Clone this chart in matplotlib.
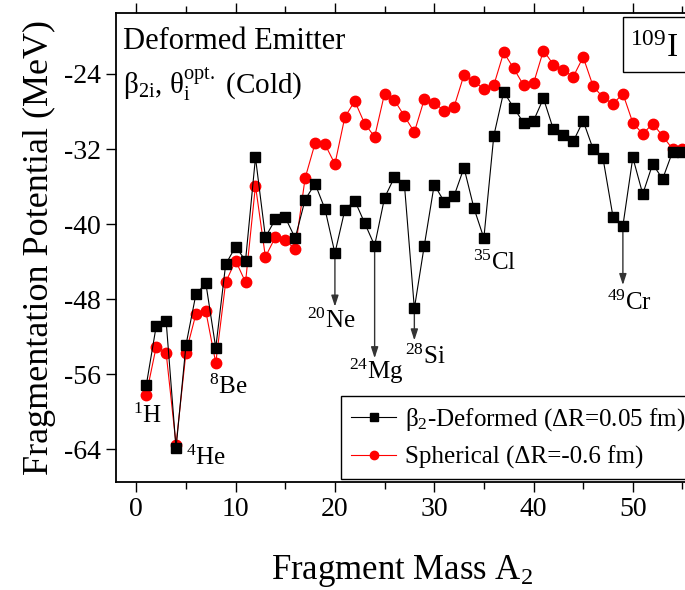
import matplotlib
matplotlib.use("Agg")
import matplotlib.pyplot as plt
from matplotlib.patches import Rectangle

plt.rcParams['font.family'] = ['Liberation Serif', 'DejaVu Serif']
plt.rcParams['mathtext.fontset'] = 'custom'
plt.rcParams['mathtext.rm'] = 'Liberation Serif'
plt.rcParams['mathtext.it'] = 'Liberation Serif:italic'
plt.rcParams['mathtext.bf'] = 'Liberation Serif:bold'
plt.rcParams['axes.unicode_minus'] = False

# Fragment mass numbers
mass = list(range(1, 56))

# beta2-deformed (dR = 0.05 fm)
deformed = [-57.2, -50.9, -50.3, -63.9, -52.9, -47.5, -46.3, -53.2, -44.3, -42.4,
            -43.9, -32.9, -41.4, -39.5, -39.3, -41.5, -37.4, -35.7, -38.4, -43.1,
            -38.5, -37.5, -39.9, -42.3, -37.2, -35.0, -35.8, -49.0, -42.3, -35.8,
            -37.6, -37.0, -34.0, -38.3, -41.5, -30.6, -25.9, -27.6, -29.2, -29.0,
            -26.6, -29.9, -30.5, -31.2, -29.0, -32.0, -33.0, -39.2, -40.2, -32.9,
            -36.8, -33.6, -35.2, -32.3, -32.3]

# spherical (dR = -0.6 fm)
spherical = [-58.2, -53.1, -53.7, -63.5, -53.7, -49.6, -49.3, -54.8, -46.2, -43.9,
             -46.2, -35.9, -43.5, -41.4, -41.7, -42.7, -35.1, -31.4, -31.5, -33.6,
             -28.6, -26.9, -29.3, -30.7, -26.1, -26.8, -28.5, -30.2, -26.7, -27.1,
             -27.9, -27.5, -24.1, -24.8, -25.6, -25.2, -21.7, -23.4, -25.2, -25.0,
             -21.5, -23.0, -23.6, -24.3, -22.2, -25.3, -26.5, -27.2, -26.1, -29.2,
             -30.4, -29.3, -30.6, -32.0, -32.0]

xticks = [0, 10, 20, 30, 40, 50]
yticks = [-64, -56, -48, -40, -32, -24]

# labelled fragments: (text, x, y)
labels = [(r'$^{1}$H', 1.1, -60.4), (r'$^{4}$He', 7.0, -64.9), (r'$^{8}$Be', 9.3, -57.4),
          (r'$^{20}$Ne', 19.6, -50.3), (r'$^{24}$Mg', 24.2, -55.7), (r'$^{28}$Si', 29.1, -54.2),
          (r'$^{35}$Cl', 36.1, -44.1), (r'$^{49}$Cr', 49.7, -48.4)]
# arrows: (mass, tip y)
arrows = [(20, -48.8), (24, -54.3), (28, -52.4), (49, -46.5)]

fig = plt.figure(figsize=(6.85, 5.9), dpi=100)
ax = fig.add_axes([0.170, 0.183, 0.835, 0.795])

ax.plot(mass, deformed, color='black', lw=0.8, marker='s', ms=6.5,
        mfc='black', mec='black', label=r'β$_{\mathrm{2}}$-Deformed (ΔR=0.05 fm)', zorder=3)
ax.plot(mass, spherical, color='red', lw=0.8, marker='o', ms=7.5,
        mfc='red', mec='red', label='Spherical (ΔR=-0.6 fm)', zorder=2)

for m, tip in arrows:
    y0 = deformed[mass.index(m)]
    ax.annotate('', xy=(m, tip), xytext=(m, y0),
                arrowprops=dict(arrowstyle='-|>,head_length=0.55,head_width=0.18',
                                color='#333333', lw=1.0,
                                mutation_scale=12, shrinkA=4, shrinkB=0), zorder=1)

for t, x, y in labels:
    ax.text(x, y, t, fontsize=18, ha='center', va='center')

ax.text(-1.35, -21.3, 'Deformed Emitter', fontsize=22, ha='left', va='baseline')
ax.text(-1.3, -26.1, r'β$_{\mathrm{2i}}$, θ$_{\mathrm{i}}^{\mathrm{opt.}}$ (Cold)',
        fontsize=21, ha='left', va='baseline')

ax.add_patch(Rectangle((0.8855, 0.8736), 0.2, 0.1172, transform=ax.transAxes,
                       fc='white', ec='black', lw=1.0, clip_on=False, zorder=4))
ax.text(0.9397, 0.9056, r'$^{109}$I', transform=ax.transAxes, fontsize=24,
        ha='center', va='baseline', zorder=5)

ax.set_xlim(-2, 55.6)
ax.set_ylim(-67.5, -17.5)
ax.set_xticks(xticks)
ax.set_xticks([5, 15, 25, 35, 45, 55], minor=True)
ax.set_yticks(yticks)
ax.tick_params(axis='both', which='major', direction='out', length=7, width=1.0,
               labelsize=20, pad=4)
ax.tick_params(axis='x', which='minor', direction='out', length=5, width=1.0)
ax.tick_params(axis='x', which='both', top=True)
ax.spines['right'].set_visible(False)
for s in ['left', 'bottom', 'top']:
    ax.spines[s].set_linewidth(1.3)

ax.set_xlabel(r'Fragment Mass A$_{\mathrm{2}}$', fontsize=25, labelpad=22)
ax.set_ylabel('Fragmentation Potential (MeV)', fontsize=26, labelpad=6)

leg = ax.legend(loc='lower right', bbox_to_anchor=(1.012, 0.006), fontsize=18,
                frameon=True, fancybox=False, edgecolor='black', handlelength=1.8,
                borderaxespad=0.0, handletextpad=0.35, borderpad=0.4, labelspacing=0.5,
                markerscale=0.8, framealpha=1.0)
leg.get_frame().set_linewidth(1.0)

fig.savefig('out.png', dpi=100)
